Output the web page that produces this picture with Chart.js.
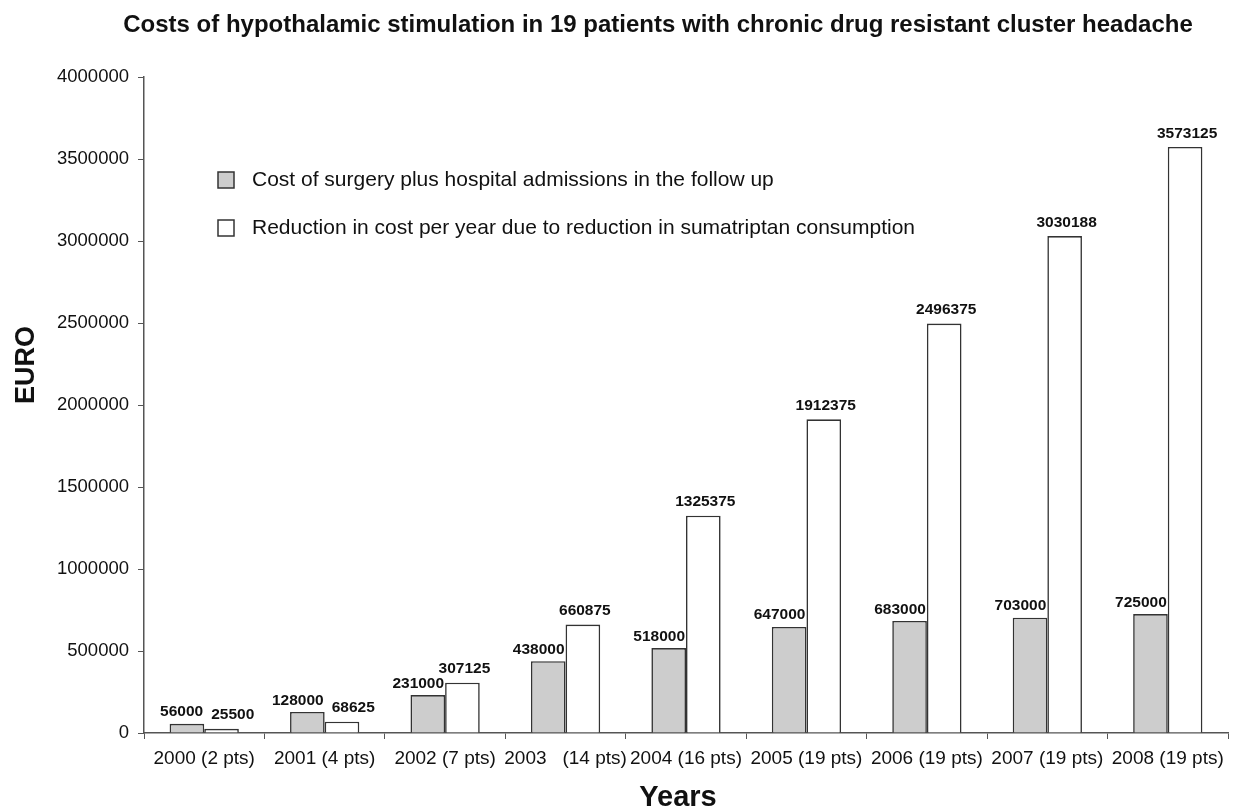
<!DOCTYPE html>
<html lang="en">
<head>
    <meta charset="UTF-8">
    <title>Costs of hypothalamic stimulation</title>
    <script src="https://cdn.jsdelivr.net/npm/chart.js"></script>
    <style>
        html, body {
            margin: 0;
            padding: 0;
            background: #ffffff;
        }
        #wrap {
            width: 1238px;
            height: 811px;
        }
    </style>
</head>
<body>
<div id="wrap">
    <canvas id="costChart" width="1238" height="811"></canvas>
</div>

<script>
    // Data
    const yearLabels = ['2000 (2 pts)', '2001 (4 pts)', '2002 (7 pts)', '2003   (14 pts)', '2004 (16 pts)',
        '2005 (19 pts)', '2006 (19 pts)', '2007 (19 pts)', '2008 (19 pts)'];
    const surgeryCosts = [56000, 128000, 231000, 438000, 518000, 647000, 683000, 703000, 725000];
    const sumatriptanSavings = [25500, 68625, 307125, 660875, 1325375, 1912375, 2496375, 3030188, 3573125];
    const seriesNames = ['Cost of surgery plus hospital admissions in the follow up',
        'Reduction in cost per year due to reduction in sumatriptan consumption'];
    const yTicks = [0, 500000, 1000000, 1500000, 2000000, 2500000, 3000000, 3500000, 4000000];

    const TITLE = 'Costs of hypothalamic stimulation in 19 patients with chronic drug resistant cluster headache';
    const FONT = '"Liberation Sans", Arial, Helvetica, sans-serif';
    const LINE = '#333333';

    // value labels on top of every bar; grey ones end at the bar's right edge,
    // white ones are pushed right when they would hit the grey label next to them
    const valueLabels = {
        id: 'valueLabels',
        afterDatasetsDraw(chart) {
            const ctx = chart.ctx;
            ctx.save();
            ctx.font = 'bold 15.5px ' + FONT;
            ctx.fillStyle = '#111';
            ctx.textBaseline = 'bottom';
            const greyBars = chart.getDatasetMeta(0).data;
            const whiteBars = chart.getDatasetMeta(1).data;
            greyBars.forEach((g, j) => {
                const gText = String(surgeryCosts[j]);
                const gRight = g.x + g.width / 2 - 1;
                const gY = g.y - 4;
                ctx.textAlign = 'right';
                ctx.fillText(gText, gRight, gY);

                const w = whiteBars[j];
                const wText = String(sumatriptanSavings[j]);
                const wWidth = ctx.measureText(wText).width;
                const wY = w.y - 6;
                let wLeft = w.x + 2 - wWidth / 2;
                if (Math.abs(wY - gY) < 12 && wLeft < gRight + 8) {
                    wLeft = gRight + 8;
                }
                ctx.textAlign = 'left';
                ctx.fillText(wText, wLeft, wY);
            });
            ctx.restore();
        }
    };

    // title, legend inside the plot and the axis titles
    const decorations = {
        id: 'decorations',
        afterDraw(chart) {
            const ctx = chart.ctx;
            const area = chart.chartArea;
            ctx.save();
            ctx.fillStyle = '#111';
            ctx.textAlign = 'center';
            ctx.textBaseline = 'middle';
            ctx.font = 'bold 24px ' + FONT;
            ctx.fillText(TITLE, 658, 25);

            ctx.font = 'bold 29px ' + FONT;
            ctx.fillText('Years', 678, 798);

            ctx.font = '21px ' + FONT;
            ctx.textAlign = 'left';
            chart.data.datasets.forEach((ds, i) => {
                const x = area.left + 74;
                const y = area.top + 103 + i * 48;
                ctx.fillStyle = ds.backgroundColor;
                ctx.fillRect(x, y - 8, 16, 16);
                ctx.strokeStyle = LINE;
                ctx.lineWidth = 1.5;
                ctx.strokeRect(x, y - 8, 16, 16);
                ctx.fillStyle = '#111';
                ctx.fillText(ds.label, x + 34, y);
            });

            ctx.translate(27, 365);
            ctx.rotate(-Math.PI / 2);
            ctx.font = 'bold 27px ' + FONT;
            ctx.textAlign = 'center';
            ctx.fillText('EURO', 0, 0);
            ctx.restore();
        }
    };

    new Chart(document.getElementById('costChart'), {
        type: 'bar',
        data: {
            labels: yearLabels,
            datasets: [{
                label: seriesNames[0],
                data: surgeryCosts,
                backgroundColor: '#cdcdcd',
                borderColor: LINE,
                borderWidth: 1.6,
                categoryPercentage: 0.575,
                barPercentage: 1.0
            }, {
                label: seriesNames[1],
                data: sumatriptanSavings,
                backgroundColor: '#ffffff',
                borderColor: LINE,
                borderWidth: 1.6,
                categoryPercentage: 0.575,
                barPercentage: 1.0
            }]
        },
        options: {
            responsive: false,
            animation: false,
            layout: {
                padding: {left: 0, right: 10, top: 77, bottom: 0}
            },
            plugins: {
                legend: {display: false},
                tooltip: {enabled: false},
                title: {display: false}
            },
            scales: {
                x: {
                    grid: {
                        display: true,
                        drawOnChartArea: false,
                        drawTicks: true,
                        tickLength: 6,
                        color: '#555'
                    },
                    border: {color: '#555', width: 1.5},
                    ticks: {
                        color: '#111',
                        font: {family: FONT, size: 19},
                        padding: 8,
                        maxRotation: 0,
                        autoSkip: false
                    },
                    title: {display: false},
                    afterFit(scale) {
                        scale.height = 78;
                    }
                },
                y: {
                    min: 0,
                    max: 4000000,
                    afterBuildTicks(scale) {
                        scale.ticks = yTicks.map(v => ({value: v}));
                    },
                    grid: {
                        display: true,
                        drawOnChartArea: false,
                        drawTicks: true,
                        tickLength: 6,
                        color: '#555'
                    },
                    border: {color: '#555', width: 1.5},
                    ticks: {
                        color: '#111',
                        font: {family: FONT, size: 18.5},
                        padding: 9,
                        callback: v => String(v)
                    },
                    title: {display: false},
                    afterFit(scale) {
                        scale.width = 144;
                    }
                }
            }
        },
        plugins: [valueLabels, decorations]
    });
</script>
</body>
</html>
